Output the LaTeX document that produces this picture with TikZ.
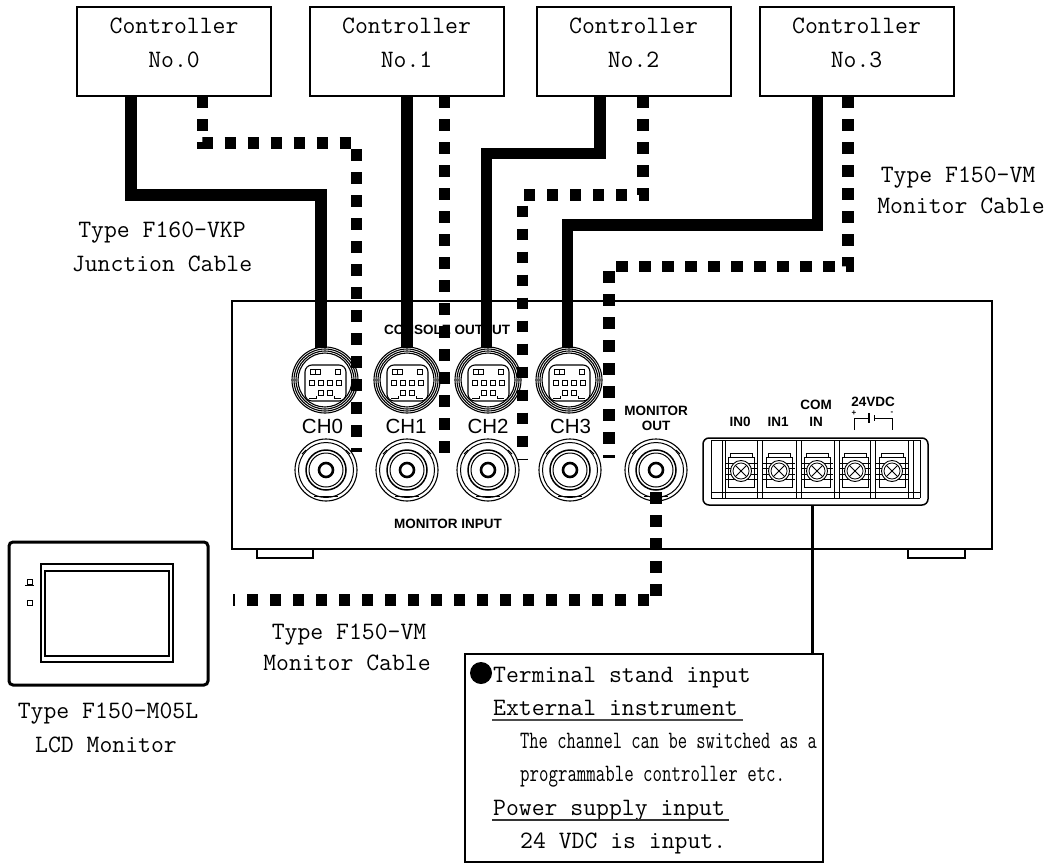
\documentclass[tikz,border=0pt]{standalone}
\usepackage{fontspec}
\usepackage{graphicx}
\newfontfamily\arial{Liberation Sans}
\begin{document}
\begin{tikzpicture}[x=1pt,y=-1pt,
  ctrl/.style={draw, line width=2pt, minimum width=194pt, minimum height=89pt, inner sep=0pt},
  mono/.style={font=\ttfamily\fontsize{25}{33}\selectfont, inner sep=0pt},
  solidcable/.style={line width=11.5pt},
  dashcable/.style={line width=11.5pt, dash pattern=on 11.5pt off 11.5pt},
  chlbl/.style={font=\arial\fontsize{20.5}{22}\selectfont, anchor=base, inner sep=0pt},
  smalllbl/.style={font=\arial\bfseries\fontsize{13.5}{15}\selectfont, anchor=base, inner sep=0pt},
  din/.pic={
    \foreach \r in {33,31,29,27} \draw[line width=1.1pt] (0,0) circle (\r pt);
    \draw[line width=1.1pt, rounded corners=7pt] (-20,-15) rectangle (21,21);
    \foreach \px/\py in {-12.5/-8,-7/-8,12.5/-8,-13.5/2.5,-4.5/2.5,4.5/2.5,13.5/2.5,-4.5/12.5,4.5/12.5}
      \draw[line width=0.9pt] (\px-2.5,\py-2.5) rectangle (\px+2.5,\py+2.5);
    \draw[line width=0.9pt] (-16,18) -- (-9,18) -- (-9,15.5);
    \draw[line width=0.9pt] (16,18) -- (9,18) -- (9,15.5);
  },
  bnc/.pic={
    \draw[line width=1.1pt] (0,0) circle (31pt);
    \draw[line width=1pt] (0,0) circle (27.5pt);
    \draw[line width=1.5pt] (0,0) circle (20pt);
    \draw[line width=1pt] (0,0) circle (17pt);
    \draw[line width=2.6pt] (0,0) circle (7pt);
    \draw[line width=0.9pt] (-20,-20) -- (-24,-16);
    \draw[line width=0.9pt] (20,-20) -- (24,-16);
    \draw[line width=0.9pt] (-12,26) -- (12,26);
  },
  screw/.pic={
    \draw[line width=0.8pt] (-13,-14) rectangle (13,16);
    \draw[line width=0.8pt] (-11,-14) -- (-11,-18) -- (11,-18) -- (11,-14);
    \foreach \hy in {-8,-3,3,8} \draw[line width=0.7pt] (-16,\hy) -- (16,\hy);
    \filldraw[line width=0.9pt, fill=white] (0,0) circle (10.5pt);
    \draw[line width=0.8pt] (0,0) circle (8pt);
    \draw[line width=0.8pt] (-5.6,-5.6) -- (5.6,5.6) (-5.6,5.6) -- (5.6,-5.6);
  }
]
\useasboundingbox (0,0) rectangle (1062,867);

% controllers
\node[ctrl] (c0) at (174,51.5) {};
\node[ctrl] (c1) at (406.5,51.5) {};
\node[ctrl] (c2) at (633.5,51.5) {};
\node[ctrl] (c3) at (856.5,51.5) {};
\foreach \n/\cx in {0/174,1/406.5,2/633.5,3/856.5}{
  \node[mono, anchor=base] (ct\n) at (\cx,34) {Controller};
  \node[mono, anchor=base] (cn\n) at (\cx,67) {No.\n};
}

% main unit
\node[draw, line width=1.3pt, minimum width=760pt, minimum height=248pt, inner sep=0pt] (unit) at (612,425) {};
\draw[line width=1.3pt] (257,549) -- (257,558) -- (313,558) -- (313,549);
\draw[line width=1.3pt] (908,549) -- (908,558) -- (965,558) -- (965,549);

\node[smalllbl] (console) at (447,334) {CONSOLE OUTPUT};
\node[smalllbl] (moninput) at (448,528) {MONITOR INPUT};
\node[smalllbl] (monout1) at (656,415) {MONITOR};
\node[smalllbl] (monout2) at (656,430) {OUT};
\node[chlbl] (l0) at (322.5,433) {CH0};
\node[chlbl] (l1) at (406,433) {CH1};
\node[chlbl] (l2) at (488,433) {CH2};
\node[chlbl] (l3) at (570.5,433) {CH3};

% connectors
\coordinate (d0) at (325,380);
\coordinate (d1) at (407,380);
\coordinate (d2) at (488,380);
\coordinate (d3) at (569,380);
\foreach \c in {d0,d1,d2,d3} \pic at (\c) {din};
\coordinate (b0) at (326,470);
\coordinate (b1) at (407,470);
\coordinate (b2) at (488,470);
\coordinate (b3) at (570,470);
\coordinate (bm) at (656,470);
\foreach \c in {b0,b1,b2,b3,bm} \pic at (\c) {bnc};

% terminal block
\node[draw, rounded corners=6pt, line width=1.5pt, minimum width=225pt, minimum height=67pt, inner sep=0pt] (tblk) at (815.5,471.5) {};
\draw[line width=0.8pt] (711,440) -- (920,440);
\draw[line width=0.8pt] (711,492) -- (920,492);
\draw[line width=0.8pt] (711,498) -- (920,498);
\foreach \vx in {711,722,725,757,762,796,801,834,839,870,875,908,913,920}
  \draw[line width=0.8pt] (\vx,440) -- (\vx,498);
\foreach \tx in {741,779,817,855,892} \pic at (\tx,471) {screw};
\node[smalllbl] (in0) at (740,426) {IN0};
\node[smalllbl] (in1) at (778,426) {IN1};
\node[smalllbl] (com1) at (816,409) {COM};
\node[smalllbl] (com2) at (816,426) {IN};
\node[smalllbl] (v24) at (873,406) {24VDC};
\node[font=\arial\bfseries\fontsize{8}{8}\selectfont, inner sep=0pt] (vplus) at (854,413.5) {+};
\node[font=\arial\bfseries\fontsize{8}{8}\selectfont, inner sep=0pt] (vminus) at (892,413.5) {-};
\draw[line width=1pt] (854,430) -- (854,418) -- (869,418);
\draw[line width=1.3pt] (869,413) -- (869,423);
\draw[line width=1pt] (874,415) -- (874,421);
\draw[line width=1pt] (874,418) -- (892,418) -- (892,430);

% ports
\coordinate (c0s) at (131,96);   \coordinate (c0d) at (202.5,96);
\coordinate (c1s) at (407,96);   \coordinate (c1d) at (444.5,96);
\coordinate (c2s) at (600,96);   \coordinate (c2d) at (643,96);
\coordinate (c3s) at (817.5,96); \coordinate (c3d) at (848,96);
\coordinate (d0t) at (321,348);  \coordinate (e0) at (356.5,452);
\coordinate (d1t) at (407,348);  \coordinate (e1) at (444.5,460);
\coordinate (d2t) at (486.5,348);\coordinate (e2) at (522.5,460);
\coordinate (d3t) at (567.5,348);\coordinate (e3) at (609,458);
\coordinate (mon) at (656,492);  \coordinate (lcdp) at (233,600);

% cables
\draw[solidcable] (c0s) -- ++(0,99) -| (d0t);
\draw[solidcable] (c1s) -- (d1t);
\draw[solidcable] (c2s) -- ++(0,57.5) -| (d2t);
\draw[solidcable] (c3s) -- ++(0,129) -| (d3t);
\draw[dashcable] (c0d) -- ++(0,47) -| (e0);
\draw[dashcable] (c1d) -- (e1);
\draw[dashcable] (c2d) -- ++(0,99) -| (e2);
\draw[dashcable] (c3d) -- ++(0,170.5) -| (e3);
\draw[dashcable] (mon) |- (lcdp);

% cable labels
\node[mono, anchor=base] (lj1) at (162,237) {Type F160-VKP};
\node[mono, anchor=base] (lj2) at (162,271) {Junction Cable};
\node[mono, anchor=base] (lr1) at (958,182) {Type F150-VM};
\node[mono, anchor=base] (lr2) at (961,213) {Monitor Cable};
\node[mono, anchor=base] (lb1) at (349,639) {Type F150-VM};
\node[mono, anchor=base] (lb2) at (347,670) {Monitor Cable};

% LCD monitor
\node[draw, line width=3pt, rounded corners=4pt, minimum width=199pt, minimum height=143pt, inner sep=0pt] (lcd) at (108.5,613.5) {};
\draw[line width=1.5pt] (41,564) rectangle (173,662);
\draw[line width=1.5pt] (45,571) rectangle (169,656);
\draw[line width=1pt] (27,579) rectangle (32,584);
\draw[line width=1pt] (25,585.5) -- (34,585.5);
\draw[line width=1pt] (27,600) rectangle (32,605);
\node[mono, anchor=base] (lm1) at (108,718) {Type F150-M05L};
\node[mono, anchor=base] (lm2) at (106,752) {LCD Monitor};

% terminal stand description
\coordinate (tw) at (812,505);
\node[draw, line width=2pt, minimum width=358pt, minimum height=208pt, inner sep=0pt] (tb) at (644,758) {};
\draw[line width=3pt] (tw) -- (tw |- tb.north);
\fill (481,673) circle (11pt);
\node[mono, anchor=base west] (t1) at (493,682) {Terminal stand input};
\node[mono, anchor=base west] (t2) at (493,715) {External instrument};
\node[mono, anchor=base west] (t3) at (520,748) {\scalebox{0.72}[1]{The channel can be switched as a}};
\node[mono, anchor=base west] (t4) at (520,781) {\scalebox{0.735}[1]{programmable controller etc.}};
\node[mono, anchor=base west] (t5) at (493,815) {Power supply input};
\node[mono, anchor=base west] (t6) at (520,848) {24 VDC is input.};
\draw[line width=2pt, gray!60!black] (492,720) -- (743,720);
\draw[line width=2pt, gray!40!black] (492,820) -- (729,820);
\end{tikzpicture}
\end{document}
